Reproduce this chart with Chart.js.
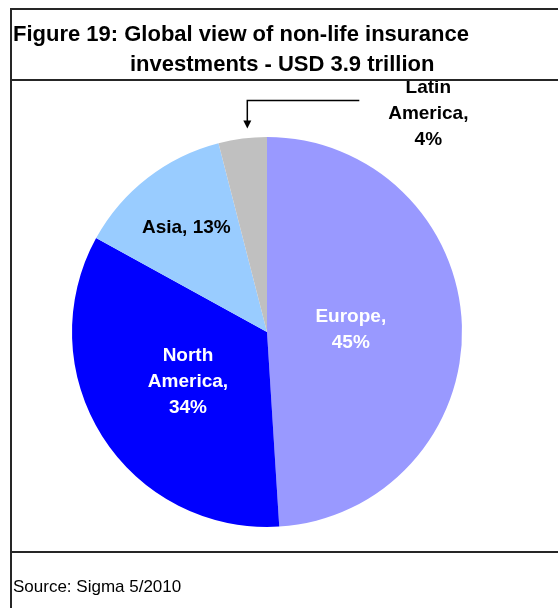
<!DOCTYPE html>
<html>
<head>
<meta charset="utf-8">
<script src="https://cdn.jsdelivr.net/npm/chart.js@4.4.1/dist/chart.umd.min.js"></script>
<style>
  html, body { margin: 0; padding: 0; background: #fff; }
  #wrap { position: relative; width: 558px; height: 608px; overflow: hidden; font-family: Arial, "Liberation Sans", sans-serif; }
  canvas { position: absolute; left: 0; top: 0; }
  .rule { position: absolute; background: #262626; }
  .title { position: absolute; font-weight: bold; font-size: 22px; color: #000; white-space: nowrap; line-height: 22px; }
  .source { position: absolute; font-size: 17px; color: #000; white-space: nowrap; line-height: 17px; }
</style>
</head>
<body>
<div id="wrap">
  <canvas id="chart" width="558" height="608"></canvas>
  <div class="rule" style="left:10px;top:8px;width:548px;height:2px"></div>
  <div class="rule" style="left:10px;top:8px;width:2px;height:600px"></div>
  <div class="rule" style="left:10px;top:79px;width:548px;height:2px"></div>
  <div class="rule" style="left:10px;top:551px;width:548px;height:2px"></div>
  <div class="title" style="left:13px;top:23px">Figure 19: Global view of non-life insurance</div>
  <div class="title" style="left:130px;top:53px">investments - USD 3.9 trillion</div>
  <div class="source" style="left:13px;top:578px">Source: Sigma 5/2010</div>
</div>
<script>
// data
const categories = ['Europe', 'North America', 'Asia', 'Latin America'];
const shares = [49, 34, 13, 4];            // slice sizes as drawn
const shareLabels = ['45%', '34%', '13%', '4%'];  // percentages printed on the chart
const colors = ['#9999FF', '#0000FF', '#99CCFF', '#C0C0C0'];

// how each label is placed (fraction of radius along the slice middle, or outside with arrow)
const labelPlacement = [
  { frac: 0.43, wrap: 'name', color: '#fff' },
  { frac: 0.48, wrap: 'words', color: '#fff' },
  { frac: 0.675, wrap: 'none', color: '#000' },
  { outside: true, wrap: 'words', color: '#000' }
];

function labelLines(i) {
  const name = categories[i], pct = shareLabels[i], p = labelPlacement[i];
  if (p.wrap === 'none') return [name + ', ' + pct];
  if (p.wrap === 'name') return [name + ',', pct];
  const words = name.split(' ');
  words[words.length - 1] += ',';
  return words.concat([pct]);
}

const sliceLabels = {
  id: 'sliceLabels',
  afterDatasetsDraw(chart) {
    const ctx = chart.ctx;
    const arcs = chart.getDatasetMeta(0).data;
    ctx.save();
    ctx.font = 'bold 19px Arial, "Liberation Sans", sans-serif';
    ctx.textAlign = 'center';
    ctx.textBaseline = 'middle';
    arcs.forEach((arc, i) => {
      const p = labelPlacement[i];
      const mid = (arc.startAngle + arc.endAngle) / 2;
      const lines = labelLines(i);
      const lh = 26;
      let cx, cy;
      if (p.outside) {
        // arrow points a bit right of the slice middle, just above the rim
        const tipX = arc.x + Math.cos(mid) * (arc.outerRadius + 10) + 6;
        const tipY = arc.y + Math.sin(mid) * (arc.outerRadius + 10);
        const elbowY = tipY - 28;
        const endX = tipX + 112;
        ctx.strokeStyle = '#000';
        ctx.lineWidth = 1.5;
        ctx.beginPath();
        ctx.moveTo(endX, elbowY);
        ctx.lineTo(tipX, elbowY);
        ctx.lineTo(tipX, tipY - 6);
        ctx.stroke();
        ctx.fillStyle = '#000';
        ctx.beginPath();
        ctx.moveTo(tipX, tipY);
        ctx.lineTo(tipX - 4, tipY - 8);
        ctx.lineTo(tipX + 4, tipY - 8);
        ctx.closePath();
        ctx.fill();
        cx = endX + 69;
        cy = elbowY + 13;
      } else {
        cx = arc.x + Math.cos(mid) * arc.outerRadius * p.frac;
        cy = arc.y + Math.sin(mid) * arc.outerRadius * p.frac;
      }
      ctx.fillStyle = p.color;
      const top = cy - (lines.length - 1) * lh / 2;
      lines.forEach((t, k) => ctx.fillText(t, cx, top + k * lh));
    });
    ctx.restore();
  }
};

new Chart(document.getElementById('chart'), {
  type: 'pie',
  data: {
    labels: categories,
    datasets: [{
      data: shares,
      backgroundColor: colors,
      borderWidth: 0
    }]
  },
  options: {
    responsive: false,
    animation: false,
    layout: { padding: { left: 72, right: 96, top: 137, bottom: 81 } },
    plugins: {
      legend: { display: false },
      tooltip: { enabled: false }
    }
  },
  plugins: [sliceLabels]
});
</script>
</body>
</html>
